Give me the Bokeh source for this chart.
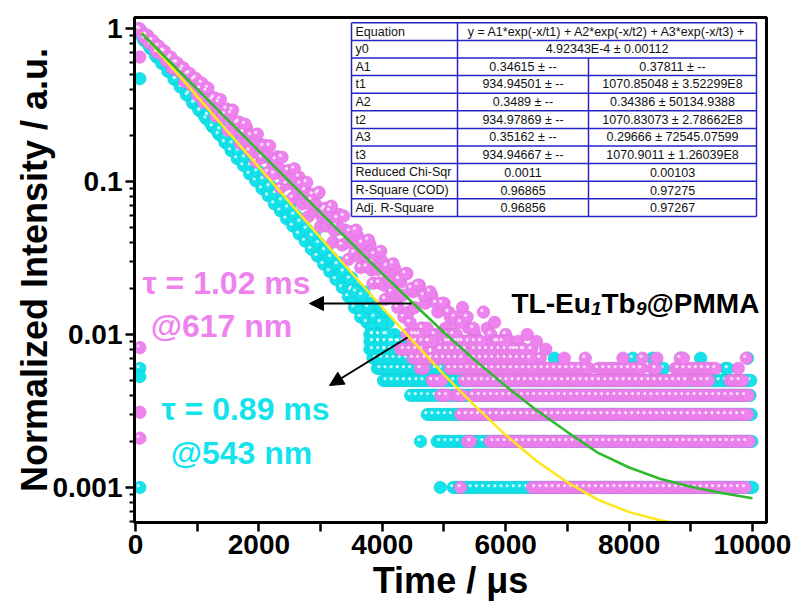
import numpy as np
from bokeh.plotting import figure
from bokeh.models import (FixedTicker, CustomJSTickFormatter, Arrow, NormalHead,
                          Label, Range1d)
from bokeh.core.properties import value
from bokeh.embed import file_html
from bokeh.resources import INLINE

# ---------------- data ----------------
# 617 nm (magenta) decay, two interleaved sample sets (every 50 us)
pink_decay_t = list(range(50, 5501, 50))
pink_decay_y = [
    1.0, 0.947, 0.859, 0.896, 0.791, 0.809, 0.698, 0.729, 0.716, 0.613,
    0.628, 0.547, 0.599, 0.525, 0.531, 0.449, 0.502, 0.427, 0.462, 0.369,
    0.405, 0.329, 0.390, 0.319, 0.342, 0.267, 0.329, 0.262, 0.274, 0.216,
    0.278, 0.213, 0.240, 0.177, 0.209, 0.224, 0.159, 0.189, 0.135, 0.178,
    0.143, 0.172, 0.115, 0.139, 0.112, 0.145, 0.0909, 0.117, 0.0963, 0.115,
    0.0782, 0.0926, 0.107, 0.0713, 0.0876, 0.0589, 0.0755, 0.0639, 0.0831, 0.0508,
    0.0650, 0.0512, 0.0640, 0.0401, 0.0510, 0.0608, 0.0384, 0.0481, 0.0309, 0.0419,
    0.0341, 0.0439, 0.0274, 0.0370, 0.0277, 0.0388, 0.0216, 0.0280, 0.0217, 0.030,
    0.017, 0.024, 0.019, 0.027, 0.015, 0.022, 0.013, 0.025, 0.012, 0.019,
    0.010, 0.021, 0.011, 0.016, 0.009, 0.018, 0.010, 0.014, 0.008, 0.016,
    0.009, 0.013, 0.008, 0.012, 0.009, 0.015, 0.008, 0.011, 0.007, 0.010,
]
pink_decay2_t = list(range(75, 5476, 50))
pink_decay2_y = [
    0.988, 0.898, 0.909, 0.809, 0.836, 0.730, 0.768, 0.678, 0.706, 0.624,
    0.650, 0.552, 0.596, 0.523, 0.553, 0.463, 0.509, 0.439, 0.472, 0.392,
    0.440, 0.368, 0.408, 0.318, 0.353, 0.311, 0.344, 0.270, 0.298, 0.260,
    0.293, 0.217, 0.245, 0.211, 0.237, 0.184, 0.200, 0.177, 0.204, 0.151,
    0.170, 0.1485, 0.171, 0.124, 0.139, 0.121, 0.144, 0.105, 0.118, 0.103,
    0.121, 0.0843, 0.0964, 0.0840, 0.0986, 0.0714, 0.0821, 0.0704, 0.0850, 0.0587,
    0.0669, 0.0573, 0.0689, 0.0477, 0.0575, 0.0489, 0.0594, 0.0399, 0.0470, 0.0398,
    0.0481, 0.0322, 0.0396, 0.0328, 0.0415, 0.0264, 0.0334, 0.0266, 0.035, 0.021,
    0.028, 0.022, 0.029, 0.017, 0.023, 0.018, 0.025, 0.014, 0.020, 0.015,
    0.021, 0.011, 0.018, 0.011, 0.019, 0.009, 0.016, 0.010, 0.016, 0.011,
    0.014, 0.010, 0.013, 0.008, 0.012, 0.009, 0.013, 0.009, 0.011,
]
# 543 nm (cyan) decay, two interleaved sample sets (every 50 us)
cyan_decay_t = list(range(50, 4501, 50))
cyan_decay_y = [
    0.98, 0.902, 0.829, 0.845, 0.737, 0.744, 0.648, 0.675, 0.589, 0.595,
    0.523, 0.540, 0.465, 0.490, 0.413, 0.432, 0.366, 0.391, 0.326, 0.345,
    0.289, 0.313, 0.257, 0.276, 0.228, 0.257, 0.203, 0.220, 0.180, 0.204,
    0.159, 0.180, 0.141, 0.170, 0.127, 0.141, 0.112, 0.132, 0.101, 0.116,
    0.0898, 0.108, 0.0807, 0.0923, 0.0715, 0.0865, 0.0643, 0.0738, 0.0570, 0.0691,
    0.0512, 0.0595, 0.0454, 0.0565, 0.0408, 0.0471, 0.0361, 0.0451, 0.0325, 0.0384,
    0.0288, 0.0360, 0.0258, 0.0307, 0.0229, 0.0294, 0.0203, 0.0248, 0.0177, 0.0235,
    0.015, 0.020, 0.013, 0.019, 0.012, 0.016, 0.010, 0.015, 0.009, 0.013,
    0.008, 0.012, 0.008, 0.010, 0.009, 0.008, 0.009, 0.007, 0.008, 0.007,
]
cyan_decay2_t = list(range(75, 4476, 50))
cyan_decay2_y = [
    0.937, 0.851, 0.833, 0.757, 0.741, 0.665, 0.659, 0.591, 0.586, 0.525,
    0.521, 0.466, 0.472, 0.415, 0.416, 0.368, 0.377, 0.326, 0.332, 0.294,
    0.301, 0.264, 0.271, 0.237, 0.244, 0.213, 0.218, 0.192, 0.197, 0.171,
    0.177, 0.155, 0.158, 0.139, 0.143, 0.124, 0.127, 0.112, 0.116, 0.101,
    0.103, 0.0904, 0.0928, 0.0812, 0.0834, 0.0729, 0.0750, 0.0656, 0.0673, 0.0589,
    0.0605, 0.0529, 0.0544, 0.0476, 0.0488, 0.0428, 0.0439, 0.0385, 0.0394, 0.0345,
    0.0354, 0.0310, 0.0319, 0.0279, 0.0286, 0.0250, 0.0257, 0.0225, 0.0231, 0.017,
    0.019, 0.015, 0.018, 0.013, 0.015, 0.011, 0.013, 0.010, 0.012, 0.009,
    0.010, 0.008, 0.009, 0.008, 0.009, 0.007, 0.008, 0.007, 0.008,
]
# points at the start of the record
pink_pre_t = [70, 70, 70, 70]
pink_pre_y = [0.65, 0.0082, 0.0031, 0.0021]
cyan_pre_t = [70, 70, 70, 70]
cyan_pre_y = [0.47, 0.0060, 0.0053, 0.0010]
# extra magenta points above the tail rows
pink_extra_t = [5550, 5640, 5700, 5760, 5820, 5880, 5950, 6000, 6080, 6150,
                6200, 6280, 6350, 6420, 6500, 6560, 6650]
pink_extra_y = [0.009, 0.014, 0.011, 0.010, 0.012, 0.009, 0.008, 0.010, 0.009, 0.008,
                0.009, 0.008, 0.010, 0.008, 0.009, 0.007, 0.008]
# quantised tail: rows of points at one level, from first to last time (us)
pink_row_level = [0.001, 0.001, 0.002, 0.002, 0.003, 0.004, 0.004, 0.004,
                  0.005, 0.005, 0.005, 0.005, 0.006, 0.006, 0.006, 0.006, 0.006, 0.006,
                  0.007, 0.007, 0.007, 0.007, 0.007, 0.007, 0.007, 0.007, 0.007, 0.007,
                  0.008, 0.008, 0.008, 0.009, 0.009, 0.009, 0.010, 0.010]
pink_row_start = [5270, 6430, 5380, 5750, 5270, 4950, 5200, 5480,
                  4810, 5330, 9040, 9640, 4620, 5100, 7500, 8380, 8750, 9770,
                  4500, 5450, 6950, 7290, 7900, 8220, 8450, 8830, 8880, 9900,
                  4300, 4900, 5500, 4500, 5100, 5800, 4400, 5000]
pink_row_end = [5300, 9900, 5450, 9950, 9950, 5050, 5300, 9950,
                5000, 8950, 9320, 9860, 4700, 7360, 8230, 8470, 9420, 9770,
                5300, 6400, 6950, 7290, 7900, 8220, 8450, 8830, 8880, 9900,
                4650, 5300, 6300, 4800, 5600, 6000, 4600, 5200]
cyan_row_level = [0.001, 0.001, 0.002, 0.002, 0.003, 0.004, 0.005, 0.006,
                  0.006, 0.006, 0.006, 0.006, 0.007, 0.007, 0.007, 0.007, 0.007,
                  0.007, 0.007, 0.008, 0.009, 0.010]
cyan_row_start = [4940, 5150, 4620, 4890, 4730, 4460, 4020, 3920,
                  8510, 8560, 9560, 9600, 3850, 6790, 8060, 8380, 8840,
                  9160, 9920, 3800, 3800, 3800]
cyan_row_end = [4940, 10000, 4620, 10000, 10000, 10000, 10000, 5100,
                8510, 8560, 9560, 9600, 4600, 6790, 8060, 8380, 8840,
                9160, 9920, 4350, 4150, 4100]
ROW_STEP = 50

# fitted curves
fit_t = [100, 500, 1000, 1500, 2000, 2500, 3000, 3500, 4000, 4500, 5000,
         5500, 6000, 6500, 7000, 7500, 8000, 8500, 9000, 9500, 10000]
fit_green = [0.928, 0.639, 0.401, 0.252, 0.158, 0.0994, 0.0626, 0.0395, 0.0250,
             0.0160, 0.0103, 0.0068, 0.0046, 0.0032, 0.0023, 0.00168, 0.00135,
             0.00114, 0.00101, 0.00092, 0.00085]
fit_yellow_t = fit_t[:19]
fit_yellow = [0.941, 0.614, 0.360, 0.211, 0.124, 0.0727, 0.0428, 0.0253, 0.0150,
              0.0090, 0.00547, 0.00341, 0.00220, 0.00149, 0.00108, 0.00083,
              0.00069, 0.00061, 0.00056]

table_names = ["Equation", "y0", "A1", "t1", "A2", "t2", "A3", "t3",
               "Reduced Chi-Sqr", "R-Square (COD)", "Adj. R-Square"]
table_merged = ["y = A1*exp(-x/t1) + A2*exp(-x/t2) + A3*exp(-x/t3) +",
                "4.92343E-4 \u00b1 0.00112"]
table_col2 = ["0.34615 \u00b1 --", "934.94501 \u00b1 --", "0.3489 \u00b1 --",
              "934.97869 \u00b1 --", "0.35162 \u00b1 --", "934.94667 \u00b1 --",
              "0.0011", "0.96865", "0.96856"]
table_col3 = ["0.37811 \u00b1 --", "1070.85048 \u00b1 3.52299E8",
              "0.34386 \u00b1 50134.9388", "1070.83073 \u00b1 2.78662E8",
              "0.29666 \u00b1 72545.07599", "1070.9011 \u00b1 1.26039E8",
              "0.00103", "0.97275", "0.97267"]

x_ticks = [0, 1000, 2000, 3000, 4000, 5000, 6000, 7000, 8000, 9000, 10000]
y_ticks = [0.001, 0.01, 0.1, 1]
y_minor = [0.0006, 0.0007, 0.0008, 0.0009,
           0.002, 0.003, 0.004, 0.005, 0.006, 0.007, 0.008, 0.009,
           0.02, 0.03, 0.04, 0.05, 0.06, 0.07, 0.08, 0.09,
           0.2, 0.3, 0.4, 0.5, 0.6, 0.7, 0.8, 0.9]

# ---------------- layout ----------------
W, H = 798, 610
FL, FR, FT, FB = 134, 766, 17, 522
X0, X1 = -16.0, 10227.0
Y0, Y1 = 5.9e-4, 1.18
L0, L1 = np.log10(Y0), np.log10(Y1)


def px2x(px):
    return X0 + (px - FL) / (FR - FL) * (X1 - X0)


def px2y(py):
    return 10 ** (L1 - (py - FT) / (FB - FT) * (L1 - L0))


def expand(levels, starts, ends):
    xs, ys = [], []
    for lv, a, b in zip(levels, starts, ends):
        for t in range(a, b + 1, ROW_STEP):
            xs.append(t)
            ys.append(lv)
    return xs, ys


FONT = "Liberation Sans"
PINK = "#EE82EE"
CYAN = "#14E3EC"

p = figure(width=W, height=H, x_range=Range1d(X0, X1), y_range=Range1d(Y0, Y1),
           y_axis_type="log", output_backend="svg", toolbar_location=None,
           title=None, min_border_left=FL, min_border_right=W - FR,
           min_border_top=FT, min_border_bottom=H - FB)
p.xgrid.visible = False
p.ygrid.visible = False
p.background_fill_color = "white"
p.border_fill_color = "white"
p.outline_line_color = "black"
p.outline_line_width = 3

xa = p.xaxis[0]
ya = p.yaxis[0]
xa.ticker = FixedTicker(ticks=x_ticks, minor_ticks=[])
xa.formatter = CustomJSTickFormatter(code="return (tick % 2000 == 0) ? tick.toFixed(0) : '';")
ya.ticker = FixedTicker(ticks=y_ticks, minor_ticks=y_minor)
ya.formatter = CustomJSTickFormatter(code="return String(tick);")
xa.axis_label = "Time / \u03bcs"
ya.axis_label = "Normalized Intensity / a.u."
for ax in (xa, ya):
    ax.axis_line_width = 3
    ax.axis_line_color = "black"
    ax.major_tick_line_width = 2.5
    ax.minor_tick_line_width = 2
    ax.major_tick_out = 9
    ax.major_tick_in = 0
    ax.minor_tick_out = 5
    ax.minor_tick_in = 0
    ax.major_label_text_font = FONT
    ax.major_label_text_font_style = "bold"
    ax.major_label_text_font_size = "28px"
    ax.major_label_text_color = "black"
    ax.major_label_standoff = 3
    ax.axis_label_text_font = FONT
    ax.axis_label_text_font_style = "bold"
    ax.axis_label_text_font_size = "36px"
    ax.axis_label_text_color = "black"
ya.axis_label_standoff = -6
xa.axis_label_standoff = 3

# ---------------- points ----------------
cr_x, cr_y = expand(cyan_row_level, cyan_row_start, cyan_row_end)
pr_x, pr_y = expand(pink_row_level, pink_row_start, pink_row_end)
cyan_x = cyan_decay_t + cyan_decay2_t + cyan_pre_t + cr_x
cyan_y = cyan_decay_y + cyan_decay2_y + cyan_pre_y + cr_y
pink_x = pink_decay_t + pink_decay2_t + pink_pre_t + pink_extra_t + pr_x
pink_y = pink_decay_y + pink_decay2_y + pink_pre_y + pink_extra_y + pr_y

# a small highlight up-left of every other bead gives the glossy look
DX = -1.6 * (X1 - X0) / (FR - FL)
DY = 10 ** (1.8 * (L1 - L0) / (FB - FT))


def beads(xs, ys, fill, edge, glint):
    p.scatter(xs, ys, marker="circle", size=12.5, fill_color=fill,
              line_color=edge, line_width=0.7, line_alpha=0.8)
    hx = [x + DX for x in xs[::2]]
    hy = [y * DY for y in ys[::2]]
    p.scatter(hx, hy, marker="circle", size=3.2, fill_color=glint,
              fill_alpha=0.85, line_color=None)


beads(cyan_x, cyan_y, CYAN, "#0BC9D3", "#E8FFFF")
beads(pink_x, pink_y, PINK, "#DA6FDA", "#FFF0FF")

# ---------------- fit curves ----------------
p.line(fit_yellow_t, fit_yellow, line_color="#FFE61A", line_width=2.5)
p.line(fit_t, fit_green, line_color="#2DBA2D", line_width=2.5)

# ---------------- table ----------------
TL, TR, C1, C2 = 351, 756, 457, 588
TT, RH = 22.3, 17.6
TB = TT + RH * 11
BLUE = "#2525C8"
p.quad(left=[px2x(TL)], right=[px2x(TR)], top=[px2y(TT)], bottom=[px2y(TB)],
       fill_color="white", line_color=None)
hy_ = [px2y(TT + RH * i) for i in range(12)]
p.segment(x0=[px2x(TL)] * 12, x1=[px2x(TR)] * 12, y0=hy_, y1=hy_,
          line_color=BLUE, line_width=1.5)
vx = [px2x(TL), px2x(C1), px2x(TR), px2x(C2)]
vy0 = [px2y(TT), px2y(TT), px2y(TT), px2y(TT + 2 * RH)]
vy1 = [px2y(TB)] * 4
p.segment(x0=vx, x1=vx, y0=vy0, y1=vy1, line_color=BLUE, line_width=1.5)

row_mid = [px2y(TT + RH * (i + 0.5)) for i in range(11)]
tkw = dict(text_font=value(FONT), text_font_size="12.5px", text_color="#111111",
           text_baseline="middle")
p.text(x=[px2x(TL + 4)] * 11, y=row_mid, text=table_names, text_align="left", **tkw)
p.text(x=[px2x((C1 + TR) / 2)] * 2, y=row_mid[:2], text=table_merged,
       text_align="center", **tkw)
p.text(x=[px2x((C1 + C2) / 2)] * 9, y=row_mid[2:], text=table_col2,
       text_align="center", **tkw)
p.text(x=[px2x((C2 + TR) / 2)] * 9, y=row_mid[2:], text=table_col3,
       text_align="center", **tkw)

# ---------------- annotations ----------------
def lab(px, py, text, color, size, style="bold", align="center"):
    p.add_layout(Label(x=px2x(px), y=px2y(py), text=text, text_align=align,
                       text_baseline="alphabetic", text_font=FONT,
                       text_font_style=style, text_font_size=size,
                       text_color=color))


lab(226, 282, "\u03c4 = 1.02 ms", PINK, "32px")
lab(221, 325, "@617 nm", PINK, "32px")
lab(245, 408, "\u03c4 = 0.89 ms", CYAN, "32px")
lab(241, 452, "@543 nm", CYAN, "32px")

# TL-Eu1Tb9@PMMA with italic subscripts
lab(511, 303, "TL-Eu", "black", "28px", align="left")
lab(590.5, 308, "1", "black", "19px", style="bold italic", align="left")
lab(601, 303, "Tb", "black", "28px", align="left")
lab(635.5, 308, "9", "black", "19px", style="bold italic", align="left")
lab(646, 303, "@PMMA", "black", "28px", align="left")

for (sx, sy, ex, ey) in [(411, 303, 309, 303), (407, 337, 329, 385)]:
    p.add_layout(Arrow(x_start=px2x(sx), y_start=px2y(sy), x_end=px2x(ex),
                       y_end=px2y(ey), line_color="black", line_width=2,
                       end=NormalHead(size=14, fill_color="black",
                                      line_color="black", line_width=1)))

open("out.html", "w").write(file_html(p, INLINE))
